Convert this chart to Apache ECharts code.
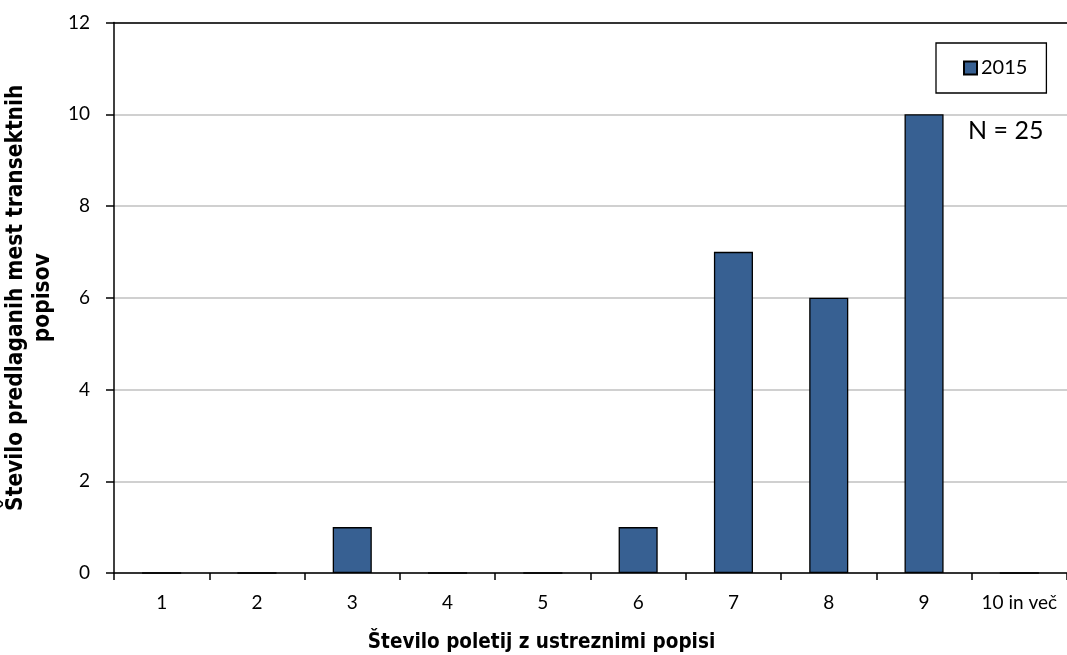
<!DOCTYPE html>
<html>
<head>
<meta charset="utf-8">
<script src="https://cdn.jsdelivr.net/npm/echarts@6/dist/echarts.min.js"></script>
<style>
  html, body { margin: 0; padding: 0; background: #fff; }
  #chart { width: 1067px; height: 655px; }
</style>
</head>
<body>
<div id="chart"></div>
<script>
// Number of seasons with suitable surveys (categories)
const categories = ['1', '2', '3', '4', '5', '6', '7', '8', '9', '10 in več'];
// Number of proposed transect sites per category, year 2015
const values2015 = [0, 0, 1, 0, 0, 1, 7, 6, 10, 0];
const seriesName = '2015';
const sampleNote = 'N = 25';

const FONT = 'Lato, "Open Sans", sans-serif';
const TITLE_FONT = '"DejaVu Sans Condensed", "DejaVu Sans", sans-serif';

const chart = echarts.init(document.getElementById('chart'), null, { renderer: 'canvas' });

chart.setOption({
  animation: false,
  backgroundColor: '#ffffff',
  textStyle: { fontFamily: FONT, color: '#000' },
  grid: { left: 114, right: 0, top: 22.5, bottom: 82, containLabel: false, outerBoundsMode: 'none' },
  title: {
    text: sampleNote,
    left: 968,
    top: 118,
    padding: 0,
    textStyle: { fontFamily: FONT, fontSize: 25, fontWeight: 'normal', color: '#000' }
  },
  legend: {
    data: [{ name: seriesName, icon: 'rect' }],
    left: 936,
    top: 43,
    orient: 'horizontal',
    itemWidth: 13,
    itemHeight: 13,
    itemGap: 6,
    padding: [15, 19, 15, 27],
    borderColor: '#000',
    borderWidth: 1.3,
    backgroundColor: '#fff',
    textStyle: { fontFamily: FONT, fontSize: 20, color: '#000', padding: [0, 0, 0, -1] }
  },
  xAxis: [
    {
      type: 'category',
      data: categories,
      position: 'bottom',
      boundaryGap: true,
      axisLine: { show: true, lineStyle: { color: '#000', width: 1.5 } },
      axisTick: { show: true, interval: 0, alignWithLabel: false, length: 7, lineStyle: { color: '#000', width: 1.5 } },
      axisLabel: { interval: 0, fontFamily: FONT, fontSize: 19, color: '#000', margin: 20 },
      name: 'Število poletij z ustreznimi popisi',
      nameLocation: 'middle',
      nameGap: 59,
      nameTextStyle: { fontFamily: TITLE_FONT, fontSize: 20.5, fontWeight: 'bold', color: '#000', padding: [0, 98, 0, 0] }
    },
    {
      // plain border line along the top of the plot
      type: 'category',
      data: categories,
      position: 'top',
      axisLine: { show: true, lineStyle: { color: '#000', width: 1.5 } },
      axisTick: { show: false },
      axisLabel: { show: false }
    }
  ],
  yAxis: {
    type: 'value',
    min: 0,
    max: 12,
    interval: 2,
    axisLine: { show: true, lineStyle: { color: '#000', width: 1.5 } },
    axisTick: { show: true, inside: false, length: 8, lineStyle: { color: '#000', width: 1.5 } },
    axisLabel: { fontFamily: FONT, fontSize: 19, color: '#000', margin: 24 },
    splitLine: { show: true, lineStyle: { color: '#c0c0c0', width: 1.5 } },
    name: 'Število predlaganih mest transektnih\npopisov',
    nameLocation: 'middle',
    nameRotate: 90,
    nameGap: 47,
    nameTextStyle: { fontFamily: TITLE_FONT, fontSize: 22.5, fontWeight: 'bold', color: '#000', lineHeight: 27, align: 'center' }
  },
  series: [
    {
      name: seriesName,
      type: 'bar',
      data: values2015,
      barWidth: '41%',
      itemStyle: { color: '#376092', borderColor: '#000', borderWidth: 1.3 }
    }
  ]
});
</script>
</body>
</html>
